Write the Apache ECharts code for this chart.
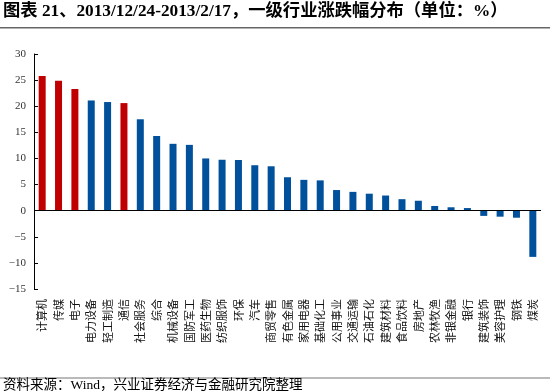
<!DOCTYPE html>
<html><head><meta charset="utf-8">
<script src="https://cdn.jsdelivr.net/npm/echarts@6/dist/echarts.min.js"></script>
<style>html,body{margin:0;padding:0;background:#fff}#c{width:550px;height:391px}</style>
</head><body><div id="c"></div>
<script>
const categories = ['计算机','传媒','电子','电力设备','轻工制造','通信','社会服务','综合','机械设备','国防军工','医药生物','纺织服饰','环保','汽车','商贸零售','有色金属','家用电器','基础化工','公用事业','交通运输','石油石化','建筑材料','食品饮料','房地产','农林牧渔','非银金融','银行','建筑装饰','美容护理','钢铁','煤炭'];
const values = [25.8,24.9,23.3,21.1,20.8,20.6,17.5,14.3,12.8,12.6,10.0,9.75,9.7,8.7,8.5,6.4,5.9,5.8,3.95,3.6,3.25,2.9,2.2,1.9,0.9,0.65,0.5,-1.0,-1.15,-1.35,-8.85];
const highlighted = ['计算机','传媒','电子','通信'];
const yTicks = {min:-15,max:30,interval:5};

const RED = '#C00000', BLUE = '#00509B';
const chart = echarts.init(document.getElementById('c'));
chart.setOption({
  animation:false,
  backgroundColor:'#fff',
  grid:{left:34,right:9,top:54,bottom:102},
  xAxis:{type:'category',data:categories,
    axisLine:{show:false,onZero:false},axisTick:{show:false},
    axisLabel:{rotate:90,interval:0,margin:10,fontSize:11,color:'#111',
      fontFamily:'"Noto Sans CJK SC", sans-serif'}},
  yAxis:{type:'value',min:yTicks.min,max:yTicks.max,interval:yTicks.interval,
    axisLine:{show:true,lineStyle:{color:'#000',width:1}},
    axisTick:{show:true,inside:true,length:4,lineStyle:{color:'#000'}},
    splitLine:{show:false},
    axisLabel:{margin:8,fontSize:11,color:'#333',fontFamily:'"Liberation Serif", serif',
      formatter:v=>String(v).replace('-','−')}},
  series:[{type:'bar',barWidth:7,
    data:values.map((v,i)=>({value:v,itemStyle:{color:highlighted.includes(categories[i])?RED:BLUE}})),
    markLine:{silent:true,symbol:'none',label:{show:false},
      lineStyle:{color:'#000',width:1,type:'solid'},data:[{yAxis:0}]}}],
  graphic:[
    {type:'text',left:3,top:3,style:{text:'图表 21、2013/12/24-2013/2/17，一级行业涨跌幅分布（单位：%）',
      font:'bold 17.3px "Liberation Serif", "Noto Sans CJK SC", serif',fill:'#000'}},
    {type:'rect',shape:{x:0,y:27,width:550,height:1.5},style:{fill:'#666'}},
    {type:'rect',shape:{x:0,y:377.5,width:550,height:1},style:{fill:'#777'}},
    {type:'text',left:3,top:379,style:{text:'资料来源：Wind，兴业证券经济与金融研究院整理',
      font:'13.5px "Liberation Serif", "Noto Sans CJK SC", serif',fill:'#000'}}
  ]
});
</script></body></html>
